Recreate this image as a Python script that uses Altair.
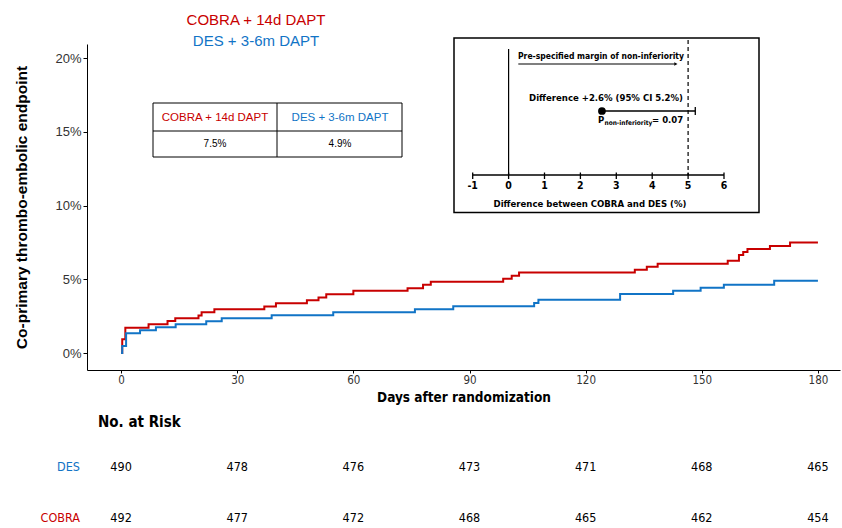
import altair as alt
import pandas as pd

# Cumulative incidence (%) of the co-primary thrombo-embolic endpoint, step times in days
cobra_days = [0, 0.3, 1.1, 7.1, 12, 14, 20, 20.8, 24.1, 37, 40, 48, 51, 53, 60, 74, 78, 80,
              98.7, 100.9, 102.8, 132.7, 135.8, 138.6, 156.7, 159.6, 160.7, 161.8, 167.6, 172.8, 180]
cobra_pct = [0, 0.93, 1.72, 1.95, 2.18, 2.36, 2.54, 2.77, 2.97, 3.15, 3.38, 3.58, 3.76, 3.99, 4.22,
             4.40, 4.63, 4.83, 5.03, 5.24, 5.46, 5.65, 5.85, 6.05, 6.26, 6.65, 6.85, 7.05, 7.26, 7.5, 7.5]
des_days = [0, 0.3, 1.3, 4.9, 9, 14.1, 22, 26, 38.9, 54.8, 75.9, 85.8, 106.7, 107.8, 128.9,
            142.6, 149.7, 155.7, 168.7, 180]
des_pct = [0, 0.48, 1.34, 1.54, 1.75, 1.95, 2.15, 2.36, 2.56, 2.77, 2.97, 3.18, 3.40, 3.61, 4.01,
           4.22, 4.42, 4.63, 4.9, 4.9]

# Number at risk
risk_days = [0, 30, 60, 90, 120, 150, 180]
risk_des = [490, 478, 476, 473, 471, 468, 465]
risk_cobra = [492, 477, 472, 468, 465, 462, 454]

# Summary table
table_arms = ["COBRA + 14d DAPT", "DES + 3-6m DAPT"]
table_rates = ["7.5%", "4.9%"]

# Non-inferiority inset
inset_ticks = [-1, 0, 1, 2, 3, 4, 5, 6]
diff_estimate = 2.6
diff_ci_upper = 5.2
ni_margin = 5
p_value = 0.07

RED = "#C80000"
BLUE = "#1174C6"
SANS = "Liberation Sans, Arial, sans-serif"
NARROW = "Liberation Sans Narrow, Arial Narrow, DejaVu Sans Condensed, sans-serif"

W, H = 753, 326

cobra_df = pd.DataFrame({"day": cobra_days, "pct": cobra_pct})
des_df = pd.DataFrame({"day": des_days, "pct": des_pct})
risk_df = pd.DataFrame({"day": risk_days, "des": risk_des, "cobra": risk_cobra})
one = pd.DataFrame({"k": [0]})

x_scale = alt.Scale(domain=[-8.8, 185.7], nice=False, zero=False)
y_scale = alt.Scale(domain=[-1.15, 20.95], nice=False, zero=False)

x_axis = alt.Axis(
    values=risk_days, title="Days after randomization", format="d",
    labelFont=NARROW, labelFontSize=11.5, labelColor="#333333",
    titleFont=NARROW, titleFontSize=13.5, titleFontWeight="bold", titleColor="black",
    titlePadding=5, tickSize=3, labelPadding=1, domainColor="black", tickColor="black",
    grid=False,
)
y_axis = alt.Axis(
    values=[0, 5, 10, 15, 20], labelExpr="datum.value + '%'",
    title="Co-primary thrombo-embolic endpoint",
    labelFont=SANS, labelFontSize=13, labelColor="#333333",
    titleFont=SANS, titleFontSize=15.5, titleFontWeight="bold", titleColor="black",
    titlePadding=25, tickSize=4, labelPadding=2, domainColor="black", tickColor="black",
    grid=False,
)

cobra_line = alt.Chart(cobra_df).mark_line(
    interpolate="step-after", strokeWidth=2, color=RED
).encode(
    x=alt.X("day:Q", scale=x_scale, axis=x_axis),
    y=alt.Y("pct:Q", scale=y_scale, axis=y_axis),
)
des_line = alt.Chart(des_df).mark_line(
    interpolate="step-after", strokeWidth=2, color=BLUE
).encode(
    x=alt.X("day:Q", scale=x_scale),
    y=alt.Y("pct:Q", scale=y_scale),
)

risk_des_text = alt.Chart(risk_df).mark_text(font=NARROW, fontSize=12.5, color="black").encode(
    x=alt.X("day:Q", scale=x_scale), y=alt.value(423), text="des:Q"
)
risk_cobra_text = alt.Chart(risk_df).mark_text(font=NARROW, fontSize=12.5, color="black").encode(
    x=alt.X("day:Q", scale=x_scale), y=alt.value(474), text="cobra:Q"
)

km = alt.layer(cobra_line, des_line, risk_des_text, risk_cobra_text)


def label(txt, x, y, size, color="black", font=SANS, weight="normal", align="center"):
    return alt.Chart(one).mark_text(
        text=txt, font=font, fontSize=size, color=color, fontWeight=weight,
        align=align, baseline="middle",
    ).encode(x=alt.value(x), y=alt.value(y))


def box(x1, x2, y1, y2, width=1.2):
    return alt.Chart(one).mark_rect(fill="white", stroke="black", strokeWidth=width).encode(
        x=alt.value(x1), x2=alt.value(x2), y=alt.value(y1), y2=alt.value(y2)
    )


def hline(x1, x2, y, width=1):
    return alt.Chart(one).mark_rule(color="black", strokeWidth=width).encode(
        x=alt.value(x1), x2=alt.value(x2), y=alt.value(y)
    )


def vline(x, y1, y2, width=1):
    return alt.Chart(one).mark_rule(color="black", strokeWidth=width).encode(
        x=alt.value(x), y=alt.value(y1), y2=alt.value(y2)
    )


# Group legend above the plot
legend = alt.layer(
    label("COBRA + 14d DAPT", 169, -24.5, 15, RED),
    label("DES + 3-6m DAPT", 169, -3.5, 15, BLUE),
)

# Event-rate table
table = alt.layer(
    box(66, 315, 59, 113, 1),
    vline(190, 59, 113),
    hline(66, 315, 87),
    label(table_arms[0], 128, 74, 11.5, RED),
    label(table_arms[1], 253, 74, 11.5, BLUE),
    label(table_rates[0], 128, 100, 10),
    label(table_rates[1], 253, 100, 10),
)

# Risk table labels
risk_labels = alt.layer(
    label("No. at Risk", 11, 378, 15, font=NARROW, weight="bold", align="left"),
    label("DES", -7, 423, 12.5, BLUE, font=NARROW, align="right"),
    label("COBRA", -7, 474, 12.5, RED, font=NARROW, align="right"),
)

# Inset: risk difference with one-sided 95% CI against the margin
d_scale = alt.Scale(domain=[-1, 6], range=[385.7, 637], nice=False, zero=False)
ticks_df = pd.DataFrame({"d": inset_ticks, "lab": [str(t) for t in inset_ticks]})
axis_df = pd.DataFrame({"d": [min(inset_ticks)], "d2": [max(inset_ticks)]})
est_df = pd.DataFrame({"d": [diff_estimate], "d2": [diff_ci_upper]})
cap_df = pd.DataFrame({"d": [diff_ci_upper]})
zero_df = pd.DataFrame({"d": [0]})
margin_df = pd.DataFrame({"d": [ni_margin]})
arrow_df = pd.DataFrame({"d": [0.27], "d2": [4.62]})
head_df = pd.DataFrame({"d": [4.66]})

X = lambda: alt.X("d:Q", scale=d_scale, axis=None)

inset_marks = alt.layer(
    alt.Chart(axis_df).mark_rule(color="black", strokeWidth=1.3).encode(
        x=X(), x2="d2:Q", y=alt.value(131)),
    alt.Chart(ticks_df).mark_rule(color="black", strokeWidth=1.3).encode(
        x=X(), y=alt.value(128.5), y2=alt.value(135)),
    alt.Chart(ticks_df).mark_text(font=NARROW, fontSize=10.5, fontWeight="bold", color="black",
                                  baseline="middle").encode(
        x=X(), y=alt.value(142), text="lab:N"),
    alt.Chart(zero_df).mark_rule(color="black", strokeWidth=1.2).encode(
        x=X(), y=alt.value(5), y2=alt.value(131)),
    alt.Chart(margin_df).mark_rule(color="black", strokeWidth=1.2, strokeDash=[4, 3]).encode(
        x=X(), y=alt.value(-4), y2=alt.value(131)),
    alt.Chart(arrow_df).mark_rule(color="black", strokeWidth=1.2).encode(
        x=X(), x2="d2:Q", y=alt.value(20)),
    alt.Chart(head_df).mark_point(shape="triangle-right", filled=True, size=14, color="black",
                                  opacity=1).encode(x=X(), y=alt.value(20)),
    alt.Chart(est_df).mark_rule(color="black", strokeWidth=1.3).encode(
        x=X(), x2="d2:Q", y=alt.value(67)),
    alt.Chart(cap_df).mark_rule(color="black", strokeWidth=1.3).encode(
        x=X(), y=alt.value(63), y2=alt.value(71)),
    alt.Chart(est_df).mark_point(shape="circle", filled=True, size=60, color="black",
                                 opacity=1).encode(x=X(), y=alt.value(67)),
)

inset = alt.layer(
    box(367, 672, -6, 168.5, 1.5),
    inset_marks,
    label("Pre-specified margin of non-inferiority", 514, 12, 8.5, font=NARROW, weight="bold"),
    label(f"Difference +{diff_estimate}% (95% CI {diff_ci_upper}%)", 519, 54, 9.5,
          font=NARROW, weight="bold"),
    label("P", 511, 75.5, 9.5, font=NARROW, weight="bold", align="left"),
    label("non-inferiority", 517.5, 78.5, 6.5, font=NARROW, weight="bold", align="left"),
    label(f"= {p_value}", 565, 75.5, 9.5, font=NARROW, weight="bold", align="left"),
    label("Difference between COBRA and DES (%)", 503, 160, 9.5, font=NARROW, weight="bold"),
).resolve_scale(x="independent")

chart = alt.layer(
    km, legend, table, risk_labels, inset
).resolve_scale(
    x="independent", y="independent"
).properties(
    width=W, height=H,
    autosize=alt.AutoSizeParams(type="none"),
    padding={"left": 87, "top": 44, "right": 2, "bottom": 158},
    background="white",
).configure(
    font=SANS
).configure_view(
    strokeWidth=0, stroke="transparent"
)

chart.save("out.html", embed_options={"renderer": "svg", "actions": False})
